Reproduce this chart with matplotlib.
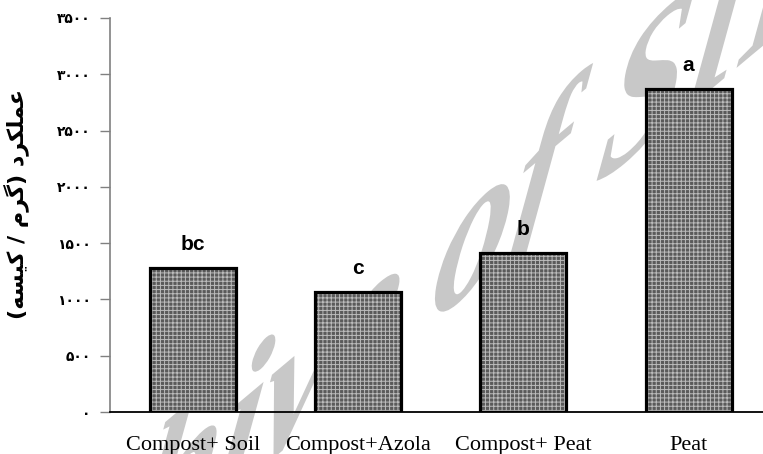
import matplotlib
matplotlib.use("Agg")
from matplotlib import pyplot as plt
from matplotlib.textpath import TextPath
from matplotlib.patches import PathPatch
from matplotlib.font_manager import FontProperties
from matplotlib.transforms import Affine2D
import numpy as np

# data
treatments = ["Compost+ Soil", "Compost+Azola", "Compost+ Peat", "Peat"]
yield_values = [1280, 1065, 1410, 2870]
letters = ["bc", "c", "b", "a"]
yticks = [0, 500, 1000, 1500, 2000, 2500, 3000, 3500]

# y label "عملکرد (گرم / کیسه)" written in visual order with Arabic presentation forms
ylabel = ("(\uFEEA\uFEB4\uFBFF\uFB90 / \uFEE1\uFEAE\uFB94) "
          "\uFEA9\uFEAE\uFB91\uFEE0\uFEE4\uFECB")

fa_digits = str.maketrans("0123456789", "\u06F0\u06F1\u06F2\u06F3\u06F4\u06F5\u06F6\u06F7\u06F8\u06F9")

plt.rcParams["hatch.linewidth"] = 0.7

fig = plt.figure(figsize=(7.63, 4.54), dpi=100)
ax = fig.add_axes([0.1442, 0.0925, 0.8558, 0.8679])

x = np.arange(len(treatments))

# textured bar fill, then the thick outline
ax.bar(x, yield_values, width=0.52, color="#5a5a5a", edgecolor="#bcbcbc",
       hatch="++++", linewidth=0, zorder=2)
ax.bar(x, yield_values, width=0.52, fill=False, edgecolor="black",
       linewidth=2.3, zorder=3)

for xi, v, lab in zip(x, yield_values, letters):
    ax.annotate(lab, (xi, v), xytext=(0, 10), textcoords="offset points",
                ha="center", va="bottom", fontsize=15, fontweight="bold",
                family="Liberation Sans")

ax.set_xlim(-0.5, 3.45)
ax.set_ylim(0, 3500)
ax.set_yticks(yticks)
ax.set_yticklabels([str(t).translate(fa_digits) for t in yticks],
                   fontsize=10, fontweight="bold", family=["DejaVu Sans"])
ax.set_xticks(x)
ax.set_xticklabels(treatments, fontsize=16, family="Liberation Serif")
ax.tick_params(axis="x", length=0, pad=17)
ax.tick_params(axis="y", length=7, width=1, color="#808080", pad=7)

ax.spines["top"].set_visible(False)
ax.spines["right"].set_visible(False)
ax.spines["left"].set_color("#808080")
ax.spines["left"].set_linewidth(1.2)
ax.spines["bottom"].set_color("black")
ax.spines["bottom"].set_linewidth(1.3)

ax.set_ylabel(ylabel, fontsize=16, fontweight="bold", family=["DejaVu Sans"])
ax.yaxis.set_label_coords(-0.124, 0.528)

# faint watermark behind the bars
wm = TextPath((0, 0), "Archive of SID", size=1,
              prop=FontProperties(family="Liberation Serif", style="italic",
                                  weight="bold"))
a, b = 200, 215
c1, s1 = np.cos(np.radians(40)), np.sin(np.radians(40))
c2, s2 = np.cos(np.radians(80)), np.sin(np.radians(80))
tr = Affine2D(np.array([[a * c1, b * c2, -105],
                        [a * s1, b * s2, -320],
                        [0, 0, 1]]))
ax.add_patch(PathPatch(wm, transform=tr, facecolor="#c8c8c8",
                       edgecolor="none", clip_on=False, zorder=1))

fig.savefig("out.png", dpi=100)
